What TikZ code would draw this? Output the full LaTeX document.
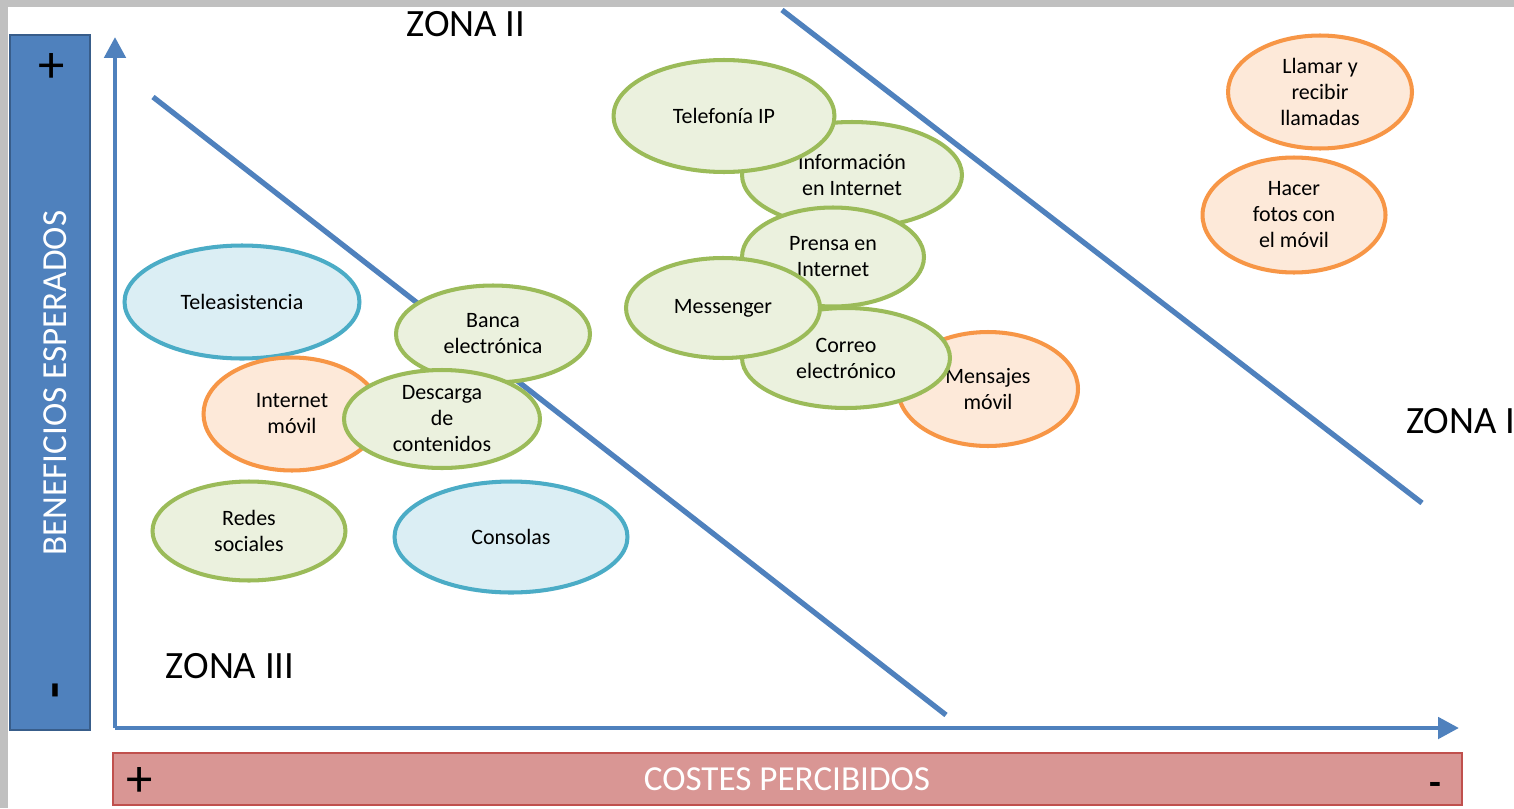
\documentclass[tikz,border=0pt]{standalone}
\usepackage{fontspec}
\setmainfont{Carlito}
\definecolor{axisblue}{RGB}{79, 129, 189}
\definecolor{boxline}{RGB}{56, 93, 138}
\definecolor{costred}{RGB}{217, 150, 148}
\definecolor{costline}{RGB}{192, 80, 77}
\definecolor{greenfill}{RGB}{235, 241, 222}
\definecolor{greenline}{RGB}{155, 187, 89}
\definecolor{orangefill}{RGB}{253, 233, 217}
\definecolor{orangeline}{RGB}{247, 150, 70}
\definecolor{bluefill}{RGB}{219, 238, 244}
\definecolor{blueline}{RGB}{75, 172, 198}
\definecolor{framegray}{RGB}{192, 192, 192}
\usetikzlibrary{shapes.geometric, arrows.meta, positioning}

\tikzset{
  service/.style={ellipse, inner sep=0pt, line width=2.3pt, align=center,
    font=\fontsize{12.5}{14.8}\selectfont},
  green/.style={service, draw=greenline, fill=greenfill},
  orange/.style={service, draw=orangeline, fill=orangefill},
  blue/.style={service, draw=blueline, fill=bluefill},
  zone/.style={font=\fontsize{22}{24}\selectfont},
  bartext/.style={text=white, font=\fontsize{20}{22}\selectfont},
  sign/.style={inner sep=0pt, font=\fontsize{30}{30}\selectfont},
}

\begin{document}
\begin{tikzpicture}[x=0.02cm, y=-0.02cm]
  \clip (0, 0) rectangle (1514, 808);
  \fill[framegray] (0, 0) rectangle (1514, 808);
  \fill[white] (8, 7) rectangle (1514, 808);

  % Side bars
  \node[draw=boxline, line width=1.5pt, fill=axisblue, minimum width=1.6cm, minimum height=13.9cm,
    inner sep=0pt] (benef) at (50, 382.5) {};
  \node[bartext, rotate=90] at (55, 383) {BENEFICIOS ESPERADOS};
  \node[sign] at (52, 68) {+};
  \node[sign] at (62, 690) {\rotatebox{90}{\textbf{-}}};

  \node[draw=costline, line width=1.5pt, fill=costred, minimum width=26.98cm, minimum height=1.04cm,
    inner sep=0pt] (costes) at (787.5, 779) {};
  \node[bartext] at (787, 779) {COSTES PERCIBIDOS};
  \node[sign] at (140, 782) {+};
  \node[inner sep=0pt, anchor=base, font=\fontsize{22}{22}\selectfont] at (1435, 795) {\textbf{-}};

  % Axes
  \coordinate (origin) at (115, 728);
  \coordinate (ytop) at (115, 37);
  \coordinate (xend) at (1459, 728);
  \draw[axisblue, line width=2.8pt, -{Triangle[length=0.42cm, width=0.42cm]}] (origin) -- (ytop);
  \draw[axisblue, line width=2.8pt, -{Triangle[length=0.42cm, width=0.42cm]}] (origin) -- (xend);

  % Zone borders
  \coordinate (a1) at (153, 97);
  \coordinate (a2) at (946, 715);
  \coordinate (b1) at (782, 10);
  \coordinate (b2) at (1422, 503);
  \draw[axisblue, line width=3pt] (a1) -- (a2);
  \draw[axisblue, line width=3pt] (b1) -- (b2);

  \node[zone] (zona2) at (466, 24) {ZONA II};
  \node[zone] (zona3) at (230, 666) {ZONA III};
  \node[zone, anchor=west] (zona1) at (1400, 421) {ZONA I};

  % Zone III
  \node[blue, minimum width=4.7cm, minimum height=2.26cm] (tele) at (242, 302) {Teleasistencia};
  \node[green, minimum width=3.88cm, minimum height=1.94cm] (banca) at (493, 334) {Banca\\electrónica};
  \node[orange, minimum width=3.54cm, minimum height=2.26cm] (intmovil) at (292, 414) {Internet\\móvil};
  \node[green, minimum width=3.92cm, minimum height=1.96cm] (descarga) at (442, 419) {Descarga\\de\\contenidos};
  \node[green, minimum width=3.86cm, minimum height=1.98cm] (redes) at (249, 531) {Redes\\sociales};
  \node[blue, minimum width=4.66cm, minimum height=2.22cm] (consolas) at (511, 537) {Consolas};

  % Zone II
  \node[orange, minimum width=3.6cm, minimum height=2.28cm] (mensajes) at (988, 389) {Mensajes\\móvil};
  \node[green, minimum width=4.4cm, minimum height=2.12cm] (info) at (852, 175) {Información\\en Internet};
  \node[green, minimum width=4.42cm, minimum height=2.24cm] (telip) at (724, 116) {Telefonía IP};
  \node[green, minimum width=3.64cm, minimum height=1.98cm] (prensa) at (833, 257) {Prensa en\\Internet};
  \node[green, minimum width=4.16cm, minimum height=2.0cm] (correo) at (846, 358) {Correo\\electrónico};
  \node[green, minimum width=3.88cm, minimum height=2.0cm] (messenger) at (723, 308) {Messenger};

  % Zone I
  \node[orange, minimum width=3.68cm, minimum height=2.26cm] (llamar) at (1320, 92) {Llamar y\\recibir\\llamadas};
  \node[orange, minimum width=3.66cm, minimum height=2.3cm] (fotos) at (1294, 215) {Hacer\\fotos con\\el móvil};
\end{tikzpicture}
\end{document}
